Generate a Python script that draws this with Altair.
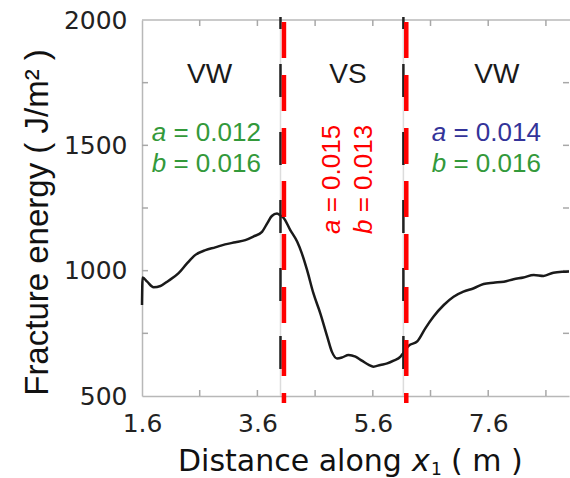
import altair as alt
import pandas as pd

# ---- data ----
x_m = [1.60, 1.61, 1.69, 1.80, 1.92, 2.06, 2.23, 2.38, 2.52, 2.70,
       2.87, 3.04, 3.22, 3.39, 3.53, 3.68, 3.77, 3.85, 3.94, 4.00,
       4.05, 4.17, 4.29, 4.37, 4.46, 4.57, 4.69, 4.81, 4.89, 4.98,
       5.07, 5.18, 5.30, 5.41, 5.53, 5.61, 5.73, 5.85, 5.96, 6.08,
       6.13, 6.22, 6.37, 6.51, 6.65, 6.83, 7.00, 7.17, 7.35, 7.52,
       7.69, 7.87, 8.04, 8.21, 8.39, 8.56, 8.73, 8.91, 9.00]
energy = [863, 973, 956, 934, 939, 960, 989, 1029, 1062, 1082,
          1093, 1105, 1113, 1122, 1136, 1155, 1189, 1218, 1228, 1220,
          1212, 1162, 1115, 1069, 1003, 910, 830, 737, 677, 650,
          654, 664, 657, 641, 624, 617, 624, 630, 641, 657,
          672, 700, 718, 770, 816, 863, 896, 916, 930, 947,
          952, 956, 966, 973, 983, 979, 992, 996, 997]

x_label_values = [1.6, 3.6, 5.6, 7.6]
x_tick_values = [2.6, 3.6, 4.6, 5.6, 6.6, 7.6, 8.6]
y_label_values = [500, 1000, 1500, 2000]
y_tick_values = [750, 1000, 1250, 1500, 1750]

boundary_black = [4.0, 6.13]
boundary_red = [4.06, 6.18]

region_names = ["VW", "VS", "VW"]
region_x = [2.77, 5.17, 7.75]
region_y = [1747, 1747, 1747]

# horizontal parameter annotations
param_letter = ["a", "b", "a", "b"]
param_value = ["= 0.012", "= 0.016", "= 0.014", "= 0.016"]
param_x = [1.768, 1.768, 6.621, 6.621]
param_y = [1518, 1394, 1518, 1394]
param_tone = ["green", "green", "blue", "green"]

# rotated (VS) annotations
vs_letter = ["a", "b"]
vs_value = ["= 0.015", "= 0.013"]
vs_x = [5.031, 5.581]
vs_y = [1146, 1146]

# ---- styles ----
W, H = 427, 376
GREEN = "#33993a"
BLUE = "#333399"
RED = "#ff0000"
AXIS_GRAY = "#b8b8b8"
LABEL = "#222222"
SANS = "Liberation Sans"
WIDE = "DejaVu Sans"

xs = alt.Scale(domain=[1.6, 9.0], nice=False, zero=False)
ys = alt.Scale(domain=[500, 2000], nice=False, zero=False)

X_AXIS = alt.Axis(
    values=x_label_values, format=".1f", title=None, ticks=False,
    labelFont=WIDE, labelFontSize=25, labelColor=LABEL,
    labelPadding=15, labelFlush=False, labelOverlap=False,
    domainColor=AXIS_GRAY, domainWidth=1.5, grid=False)
Y_AXIS = alt.Axis(
    values=y_label_values, format="d", ticks=False,
    title="Fracture energy ( J/m\u00b2 )",
    titleFont=SANS, titleFontSize=33, titleFontWeight="normal",
    titleColor="#111111", titleAngle=270, titleX=-95, titleY=202,
    titleAlign="center", titleBaseline="alphabetic", titleLimit=1000,
    labelFont=WIDE, labelFontSize=25, labelColor=LABEL,
    labelPadding=15, labelOverlap=False,
    domainColor=AXIS_GRAY, domainWidth=1.5, grid=False)


def X(field):
    return alt.X(field, scale=xs, axis=X_AXIS)


def Y(field):
    return alt.Y(field, scale=ys, axis=Y_AXIS)


curve_df = pd.DataFrame({"x": x_m, "e": energy})

curve = alt.Chart(curve_df).mark_line(
    color="#1a1a1a", strokeWidth=2.5, interpolate="monotone"
).encode(x=X("x:Q"), y=Y("e:Q"))

one = pd.DataFrame({"k": [0]})

top_border = alt.Chart(one).mark_rule(color=AXIS_GRAY, strokeWidth=1.5).encode(
    x=alt.value(0), x2=alt.value(W + 2), y=alt.value(0))

xt_df = pd.DataFrame({"x": x_tick_values})
yt_df = pd.DataFrame({"e": y_tick_values})
tick_style = dict(color="#a8a8a8", strokeWidth=1.5)
bottom_ticks = alt.Chart(xt_df).mark_rule(**tick_style).encode(
    x=X("x:Q"), y=alt.value(H), y2=alt.value(H - 6))
top_ticks = alt.Chart(xt_df).mark_rule(**tick_style).encode(
    x=X("x:Q"), y=alt.value(0), y2=alt.value(6))
left_ticks = alt.Chart(yt_df).mark_rule(**tick_style).encode(
    y=Y("e:Q"), x=alt.value(0), x2=alt.value(6))
right_ticks = alt.Chart(yt_df).mark_rule(**tick_style).encode(
    y=Y("e:Q"), x=alt.value(W - 6), x2=alt.value(W))

bb_df = pd.DataFrame({"x": boundary_black})
br_df = pd.DataFrame({"x": boundary_red})

faint = alt.Chart(bb_df).mark_rule(color="#dcdcdc", strokeWidth=1.5).encode(
    x=X("x:Q"), y=alt.value(0), y2=alt.value(H))
black_dash = alt.Chart(bb_df).mark_rule(
    color="#222222", strokeWidth=2.5, strokeDash=[33, 35], strokeDashOffset=21
).encode(x=X("x:Q"), y=alt.value(-3), y2=alt.value(382))
red_dash = alt.Chart(br_df).mark_rule(
    color=RED, strokeWidth=4.5, strokeDash=[36, 17]
).encode(x=X("x:Q"), y=alt.value(2), y2=alt.value(383))

reg_df = pd.DataFrame({"t": region_names, "x": region_x, "e": region_y})
regions = alt.Chart(reg_df).mark_text(
    font=SANS, fontSize=28, color="#1a1a1a", align="center", baseline="alphabetic"
).encode(x=X("x:Q"), y=Y("e:Q"), text="t:N")

par_df = pd.DataFrame({"l": param_letter, "v": param_value, "x": param_x,
                       "e": param_y, "tone": param_tone})
tone_color = alt.Color("tone:N", scale=alt.Scale(domain=["green", "blue"], range=[GREEN, BLUE]), legend=None)
par_letters = alt.Chart(par_df).mark_text(
    font=SANS, fontSize=26, fontStyle="italic", align="left", baseline="alphabetic"
).encode(x=X("x:Q"), y=Y("e:Q"), text="l:N", color=tone_color)
par_values = alt.Chart(par_df).mark_text(
    font=SANS, fontSize=26, align="left", baseline="alphabetic", dx=21.7
).encode(x=X("x:Q"), y=Y("e:Q"), text="v:N", color=tone_color)

vs_df = pd.DataFrame({"l": vs_letter, "v": vs_value, "x": vs_x, "e": vs_y})
vs_letters = alt.Chart(vs_df).mark_text(
    font=SANS, fontSize=26, fontStyle="italic", align="left", baseline="alphabetic",
    angle=270, color=RED
).encode(x=X("x:Q"), y=Y("e:Q"), text="l:N")
vs_values = alt.Chart(vs_df).mark_text(
    font=SANS, fontSize=26, align="left", baseline="alphabetic",
    angle=270, color=RED, dx=21.7
).encode(x=X("x:Q"), y=Y("e:Q"), text="v:N")

# x-axis title pieces: "Distance along x1 ( m )" with italic x and subscript 1
xt_main = alt.Chart(pd.DataFrame({"t": ["Distance along"]})).mark_text(
    font=WIDE, fontSize=30, align="left", baseline="alphabetic", color="#111111"
).encode(text="t:N", x=alt.value(36), y=alt.value(450.7))
xt_var = alt.Chart(pd.DataFrame({"t": ["x"]})).mark_text(
    font=WIDE, fontSize=30, fontStyle="italic", align="left", baseline="alphabetic", color="#111111"
).encode(text="t:N", x=alt.value(270), y=alt.value(450.7))
xt_sub = alt.Chart(pd.DataFrame({"t": ["1"]})).mark_text(
    font=WIDE, fontSize=17, align="left", baseline="alphabetic", color="#111111"
).encode(text="t:N", x=alt.value(289), y=alt.value(455))
xt_unit = alt.Chart(pd.DataFrame({"t": ["( m )"]})).mark_text(
    font=WIDE, fontSize=30, align="left", baseline="alphabetic", color="#111111"
).encode(text="t:N", x=alt.value(309), y=alt.value(450.7))

chart = alt.layer(
    faint, top_border, bottom_ticks, top_ticks, left_ticks, right_ticks,
    curve, black_dash, red_dash, regions, par_letters, par_values,
    vs_letters, vs_values, xt_main, xt_var, xt_sub, xt_unit
).properties(
    width=W, height=H,
    autosize=alt.AutoSizeParams(type="none"),
    padding={"left": 142, "top": 20, "right": 1, "bottom": 82},
    background="white",
).configure_view(stroke="transparent")

chart.save("out.html", embed_options={"renderer": "svg", "actions": False})
